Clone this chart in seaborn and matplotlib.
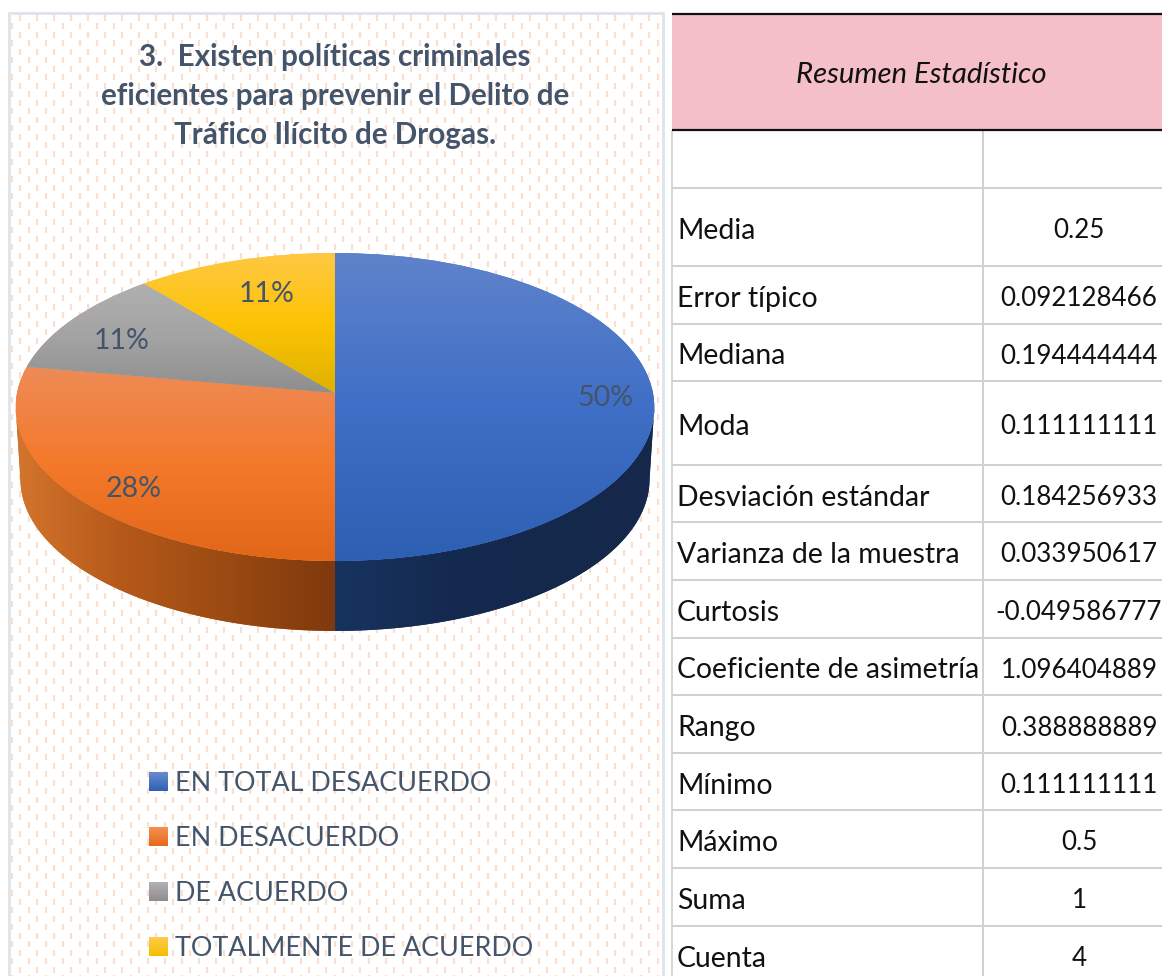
import numpy as np
import matplotlib
matplotlib.use("Agg")
import matplotlib.pyplot as plt
from matplotlib.patches import Patch, PathPatch, Rectangle
from matplotlib.path import Path
from matplotlib.transforms import Transform
import seaborn as sns

categories = ["EN TOTAL DESACUERDO", "EN DESACUERDO", "DE ACUERDO", "TOTALMENTE DE ACUERDO"]
shares = [0.5, 0.277777778, 0.111111111, 0.111111111]
pct_labels = ["50%", "28%", "11%", "11%"]
title_text = "3.  Existen políticas criminales\neficientes para prevenir el Delito de\nTráfico Ilícito de Drogas."
table_header = "Resumen Estadístico"
stat_names = ["Media", "Error típico", "Mediana", "Moda", "Desviación estándar",
              "Varianza de la muestra", "Curtosis", "Coeficiente de asimetría",
              "Rango", "Mínimo", "Máximo", "Suma", "Cuenta"]
stat_values = ["0.25", "0.092128466", "0.194444444", "0.111111111", "0.184256933",
               "0.033950617", "-0.049586777", "1.096404889", "0.388888889",
               "0.111111111", "0.5", "1", "4"]

sns.set_theme(style="white")
plt.rcParams["font.family"] = ["Lato", "DejaVu Sans"]

INK = "#44546A"
face_stops = [["#5F83CB", "#3F6FC6", "#2D5FB2"],
              ["#EE8B57", "#F4792A", "#E26618"],
              ["#B0B0B0", "#A3A3A3", "#8E8E8E"],
              ["#FFC845", "#FDC305", "#DDB200"]]
swatch_stops = [["#6A8CCF", "#2F60B4"], ["#F59052", "#E8691A"],
                ["#B2B2B2", "#8E8E8E"], ["#FFCB4D", "#F5BE00"]]
side_stops = {0: ["#17345F", "#152A50", "#14284C", "#16294C"],
              1: ["#D4752C", "#B5591A", "#9A4A12", "#7F390D"]}

# layout in pixels of the 1162x976 picture
PIE_X, PIE_Y = 335.0, 393.0
RX, RY, KP = 318.0, 152.7, 0.0909
SIDE_SCALE, SIDE_Y = 0.985, 465.5
PCT_R = 0.82
PCT_NUDGE = [(10, 5), (8, 11), (4, 8), (15, 11)]
row_edges = [188, 266, 324, 381, 465, 522, 580, 638, 695, 753, 810, 868, 926, 984]
TX0, TX1, TXM = 672, 1162, 983


class Persp(Transform):
    input_dims = output_dims = 2

    def __init__(self, cx, cy, rx, ry, k):
        super().__init__()
        self.p = (cx, cy, rx, ry, k)

    def transform_non_affine(self, xy):
        cx, cy, rx, ry, k = self.p
        xy = np.asarray(xy, float)
        d = 1 + k * xy[:, 1]
        return np.column_stack([cx + rx * xy[:, 0] / d, cy - ry * xy[:, 1] / d])


fig = plt.figure(figsize=(11.62, 9.76), dpi=100, facecolor="white")
ax = fig.add_axes([0, 0, 1, 1])
wedges, _, autos = ax.pie(shares, startangle=90, counterclock=False, radius=1,
                          labels=None, autopct="%.0f%%", pctdistance=PCT_R)
ax.set_aspect("auto")
ax.set_xlim(0, 1162)
ax.set_ylim(976, 0)
ax.axis("off")

# chart panel
ax.add_patch(Rectangle((9, 13), 654, 975, fc="white", ec="#DEE4EC", lw=2, zorder=0))
colsA = np.arange(20, 660, 17)
colsB = np.arange(11.5, 660, 17)
for cols, y0 in ((colsA, 14.5), (colsB, 23)):
    for yy in np.arange(y0, 976, 17):
        ax.vlines(cols, yy, yy + 6, color="#FADFCE", lw=1.6, zorder=0.5)

top = Persp(PIE_X, PIE_Y, RX, RY, KP)
bot = Persp(PIE_X, SIDE_Y, RX * SIDE_SCALE, RY * SIDE_SCALE, KP)

# sides of the disc, built from the cumulative shares; only the part below
# the silhouette tangent is visible
cum = np.concatenate([[0], np.cumsum(shares)]) * 2 * np.pi
sil = np.arccos(-KP)
for i, stops in side_stops.items():
    t = np.linspace(max(cum[i], sil), min(cum[i + 1], 2 * np.pi - sil), 120)
    circ = np.column_stack([np.sin(t), np.cos(t)])
    ring = np.vstack([top.transform(circ), bot.transform(circ)[::-1]])
    patch = PathPatch(Path(ring), fc=stops[1], ec="none", zorder=1)
    ax.add_patch(patch)
    ext = patch.get_path().get_extents()
    cmap = sns.blend_palette(stops, 256, as_cmap=True)
    im = ax.imshow(np.linspace(0, 1, 256)[None, :], cmap=cmap, aspect="auto",
                   extent=[ext.x0, ext.x1, ext.y1, ext.y0], zorder=1.1, interpolation="bilinear")
    im.set_clip_path(patch)

# top faces
for w, stops in zip(wedges, face_stops):
    w.set_transform(top + ax.transData)
    w.set_facecolor(stops[1])
    w.set_edgecolor("none")
    w.set_zorder(2)
    ext = top.transform_path(w.get_path()).get_extents()
    cmap = sns.blend_palette(stops, 256, as_cmap=True)
    im = ax.imshow(np.linspace(0, 1, 256)[:, None], cmap=cmap, aspect="auto",
                   extent=[ext.x0, ext.x1, ext.y1, ext.y0], zorder=2.1, interpolation="bilinear")
    im.set_clip_path(w)

# percentage labels
mids = (cum[:-1] + cum[1:]) / 2
for a, lab, m, n in zip(autos, pct_labels, mids, PCT_NUDGE):
    px, py = top.transform(np.array([[PCT_R * np.sin(m), PCT_R * np.cos(m)]]))[0]
    a.set_text(lab)
    a.set_position((px + n[0], py + n[1]))
    a.set_color(INK)
    a.set_fontsize(20.5)
    a.set_ha("center")
    a.set_va("center")
    a.set_zorder(3)

ax.set_xlim(0, 1162)
ax.set_ylim(976, 0)

ax.text(335, 96, title_text, ha="center", va="center", color=INK, fontsize=21.3,
        fontweight="bold", linespacing=1.49, zorder=3)

handles = [Patch(fc=s[1], ec="none") for s in face_stops]
leg = ax.legend(handles, categories, loc="upper left", bbox_to_anchor=(148.5 / 1162, 1 - 771 / 976),
                frameon=False, fontsize=19.4, labelcolor=INK, handlelength=0.7, handleheight=0.7,
                handletextpad=0.3, labelspacing=1.11, borderpad=0, borderaxespad=0)
leg.set_zorder(3)
fig.canvas.draw()
inv = ax.transData.inverted()
for p, stops in zip(leg.get_patches(), swatch_stops):
    bb = p.get_window_extent().transformed(inv)
    im = ax.imshow(np.linspace(0, 1, 64)[:, None], aspect="auto", interpolation="bilinear",
                   cmap=sns.blend_palette(stops, 64, as_cmap=True),
                   extent=[bb.x0, bb.x1, max(bb.y0, bb.y1), min(bb.y0, bb.y1)], zorder=4)
ax.set_xlim(0, 1162)
ax.set_ylim(976, 0)

# statistics table
ax.add_patch(Rectangle((TX0, 14), TX1 - TX0, 116, fc="#F4BFC6", ec="none", zorder=1))
ax.hlines([13.5, 130], TX0, TX1, color="#111111", lw=1.6, zorder=2)
ax.hlines(row_edges[:-1], TX0, TX1, color="#D0D0D0", lw=1.4, zorder=1)
ax.vlines([TX0], 130, 976, color="#D0D0D0", lw=1.2, zorder=1)
ax.vlines([TXM], 130, 976, color="#D0D0D0", lw=1.4, zorder=1)
ax.text((TX0 + TX1) / 2 + 4, 75, table_header, ha="center", va="center", fontsize=21.2,
        style="italic", color="#111111", zorder=3)
for i, (name, val) in enumerate(zip(stat_names, stat_values)):
    yc = (row_edges[i] + row_edges[i + 1]) / 2 + 4
    ax.text(677, yc, name, ha="left", va="center", fontsize=20.4, color="#111111", zorder=3)
    ax.text(1079, yc, val, ha="center", va="center", fontsize=18.7, color="#111111", zorder=3)

fig.savefig("out.png", dpi=100)
